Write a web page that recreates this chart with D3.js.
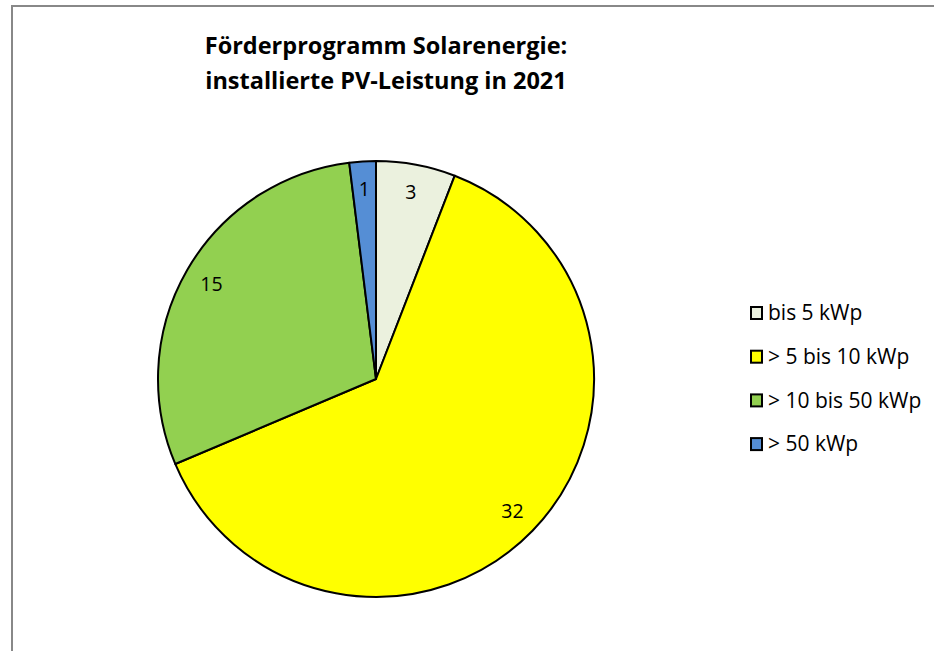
<!DOCTYPE html>
<html>
<head>
<meta charset="utf-8">
<script src="https://cdn.jsdelivr.net/npm/d3@7"></script>
<style>
  body { margin: 0; background: #fff; }
  svg { display: block; }
</style>
</head>
<body>
<svg width="934" height="651"></svg>
<script>
const categories = ["bis 5 kWp", "> 5 bis 10 kWp", "> 10 bis 50 kWp", "> 50 kWp"];
const values = [3, 32, 15, 1];
const colors = ["#ebf1de", "#ffff00", "#92d050", "#558ed5"];
const titleLines = ["Förderprogramm Solarenergie:", "installierte PV-Leistung in 2021"];

const svg = d3.select("svg");
const font = "'Open Sans', 'Noto Sans', sans-serif";

// frame (runs off right/bottom like the screenshot)
svg.append("rect")
  .attr("x", 12).attr("y", 6)
  .attr("width", 1000).attr("height", 1000)
  .attr("fill", "#fff")
  .attr("stroke", "#888").attr("stroke-width", 2);

svg.append("g")
  .selectAll("text")
  .data(titleLines)
  .join("text")
  .attr("x", 386)
  .attr("y", (d, i) => 54 + i * 35)
  .attr("text-anchor", "middle")
  .attr("font-family", font)
  .attr("font-weight", "bold")
  .attr("font-size", 23.5)
  .attr("fill", "#000")
  .text((d) => d);

const data = categories.map((c, i) => ({ name: c, value: values[i], color: colors[i] }));

const radius = 218;
const pie = d3.pie().value((d) => d.value).sort(null);
const arc = d3.arc().innerRadius(0).outerRadius(radius);
const labelArc = d3.arc().innerRadius(190).outerRadius(190);

const g = svg.append("g").attr("transform", "translate(376,379)");

g.selectAll("path")
  .data(pie(data))
  .join("path")
  .attr("d", arc)
  .attr("fill", (d) => d.data.color)
  .attr("stroke", "#000")
  .attr("stroke-width", 2)
  .attr("stroke-linejoin", "round");

g.selectAll("text")
  .data(pie(data))
  .join("text")
  .attr("transform", (d) => `translate(${labelArc.centroid(d)})`)
  .attr("text-anchor", "middle")
  .attr("dy", "0.35em")
  .attr("font-family", font)
  .attr("font-size", 19.5)
  .attr("fill", "#000")
  .text((d) => d.data.value);

// legend
const legend = svg.append("g")
  .selectAll("g")
  .data(data)
  .join("g")
  .attr("transform", (d, i) => `translate(751,${313 + i * 43.7})`);

legend.append("rect")
  .attr("x", 0).attr("y", -6)
  .attr("width", 11).attr("height", 12)
  .attr("fill", (d) => d.color)
  .attr("stroke", "#000")
  .attr("stroke-width", 2);

legend.append("text")
  .attr("x", 17)
  .attr("dy", "0.35em")
  .attr("font-family", font)
  .attr("font-size", 21)
  .attr("fill", "#000")
  .text((d) => d.name);
</script>
</body>
</html>
